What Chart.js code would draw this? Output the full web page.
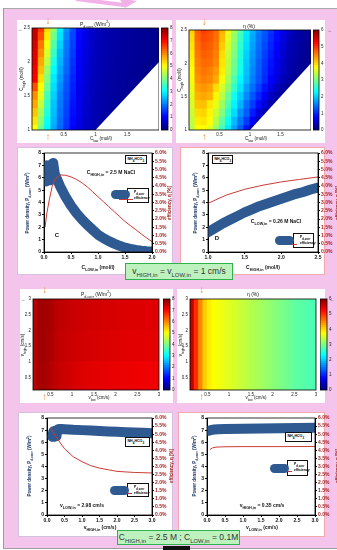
<!DOCTYPE html>
<html>
<head>
<meta charset="utf-8">
<script src="https://cdn.jsdelivr.net/npm/chart.js@4.4.1/dist/chart.umd.min.js"></script>
<style>
body{margin:0;width:337px;height:550px;position:relative;overflow:hidden;background:#fff;font-family:"Liberation Sans",Arial,sans-serif}
.abs{position:absolute;box-sizing:border-box}
.panel{position:absolute;background:#fff;box-sizing:border-box}
canvas{position:absolute}
.t{position:absolute;white-space:nowrap;line-height:1;color:#111}
.t sub,.t sup{font-size:75%;line-height:0}
.box{position:absolute;box-sizing:border-box;background:#fff;border:0.8px solid #111;font-size:3.6px;font-weight:bold;line-height:1.25;padding:1px 1.5px;white-space:nowrap}
.blob{position:absolute;background:#2e5a91;border-radius:5px}
.green{position:absolute;box-sizing:border-box;border:1.5px solid #2cb34e;background:#bdf2bf;color:#333;font-size:8.5px;text-align:center;white-space:nowrap}
.green sub{font-size:70%}
</style>
</head>
<body>
<div class="abs" style="left:3px;top:8px;width:334px;height:541px;background:#f5c4ec;border-left:1.5px solid #9c9c9c;border-top:1px solid #a8a8a8;border-bottom:1px solid #9c9c9c"></div>
<svg class="abs" style="left:0;top:0" width="337" height="12">
  <path d="M76 -1 L124 5" stroke="#f2b2e8" stroke-width="4"/>
  <polygon points="119,-2 137,1 125,8" fill="#f2b2e8"/>
</svg>

<div class="panel" style="left:17px;top:20px;width:155px;height:123px"></div>
<div class="panel" style="left:176px;top:20px;width:149px;height:123px"></div>
<div class="panel" style="left:17px;top:147px;width:156px;height:128px;border:1px solid #d2c2dc"></div>
<div class="panel" style="left:180px;top:147px;width:145px;height:128px;border:1px solid #f1aaaa"></div>
<div class="panel" style="left:20px;top:289px;width:153px;height:114px"></div>
<div class="panel" style="left:177px;top:289px;width:148px;height:114px"></div>
<div class="panel" style="left:18px;top:412px;width:155px;height:125px;border:1px solid #d2c2dc"></div>
<div class="panel" style="left:178px;top:412px;width:147px;height:125px;border:1px solid #f1aaaa"></div>

<script>

// top maps: columns = C_low (mol/l), rows = C_high (mol/l), bottom row first
const cLowCols = [0.05,0.15,0.25,0.35,0.45,0.55,0.65,0.75,0.85,0.95,1.05,1.15,1.25,1.35,1.45,1.55,1.65,1.75,1.85,1.95];
const cHighRows = [1.0,1.125,1.25,1.375,1.5,1.625,1.75,1.875,2.0,2.125,2.25,2.375,2.5];
const pdMap = [
  [5.0,3.9,2.95,2.3,1.8,1.4,1.0,0.78,0.6,0.45,0.35],
  [5.2,4.1,3.05,2.4,1.85,1.45,1.05,0.8,0.6,0.45,0.36,0.3],
  [5.45,4.3,3.25,2.5,1.9,1.5,1.1,0.83,0.62,0.46,0.37,0.3,0.25,0.21],
  [5.7,4.55,3.4,2.55,1.95,1.55,1.15,0.85,0.64,0.47,0.38,0.31,0.26,0.22,0.19],
  [5.9,4.8,3.55,2.65,2.0,1.6,1.2,0.87,0.66,0.48,0.39,0.32,0.27,0.23,0.2,0.17],
  [6.4,5.0,3.8,2.75,2.1,1.65,1.25,0.9,0.68,0.49,0.4,0.33,0.28,0.24,0.21,0.18,0.15],
  [7.0,5.25,4.0,2.85,2.2,1.7,1.3,0.93,0.7,0.5,0.41,0.34,0.29,0.25,0.22,0.19,0.16,0.14,0.11],
  [7.1,5.5,4.2,3.0,2.3,1.8,1.35,0.95,0.72,0.52,0.42,0.35,0.3,0.26,0.23,0.2,0.17,0.15,0.12,0.1],
  [7.2,5.7,4.5,3.2,2.4,1.85,1.4,0.97,0.74,0.53,0.43,0.36,0.31,0.27,0.24,0.21,0.18,0.16,0.13,0.11],
  [7.25,5.9,4.7,3.45,2.5,1.9,1.45,1.0,0.76,0.55,0.44,0.37,0.32,0.28,0.25,0.22,0.19,0.16,0.14,0.12],
  [7.35,6.1,4.9,3.65,2.65,1.95,1.5,1.02,0.78,0.56,0.45,0.38,0.33,0.29,0.25,0.22,0.19,0.17,0.14,0.12],
  [7.45,6.4,5.15,3.9,2.8,2.05,1.55,1.05,0.8,0.58,0.46,0.39,0.34,0.3,0.26,0.23,0.2,0.17,0.15,0.13],
  [7.5,6.6,5.3,4.1,2.9,2.15,1.6,1.1,0.83,0.6,0.47,0.4,0.35,0.3,0.26,0.23,0.2,0.17,0.15,0.13]
];
const etaMap = [
  [3.3,3.75,3.75,3.58,3.13,2.63,2.13,1.7,1.3,0.86,0.3],
  [3.37,3.85,3.9,3.75,3.3,2.8,2.3,1.85,1.45,1.1,0.7,0.3],
  [3.43,3.95,4.0,3.8,3.45,3.0,2.5,2.05,1.6,1.3,0.9,0.55,0.3,0.15],
  [3.5,4.1,4.12,3.88,3.63,3.16,2.69,2.2,1.8,1.4,1.1,0.8,0.52,0.27,0.15],
  [3.57,4.2,4.27,4.2,3.8,3.33,2.85,2.33,1.95,1.57,1.26,0.97,0.71,0.42,0.25,0.14],
  [3.63,4.3,4.38,4.3,3.95,3.5,3.05,2.55,2.1,1.7,1.4,1.12,0.85,0.6,0.38,0.22,0.12],
  [3.7,4.4,4.5,4.45,4.25,3.7,3.2,2.7,2.2,1.85,1.5,1.25,1.0,0.75,0.55,0.34,0.22,0.15,0.1],
  [3.75,4.45,4.57,4.5,4.35,3.85,3.3,2.85,2.35,1.9,1.55,1.28,1.03,0.82,0.62,0.42,0.28,0.18,0.12,0.08],
  [3.8,4.5,4.63,4.6,4.45,3.9,3.35,2.9,2.4,1.93,1.6,1.3,1.07,0.85,0.66,0.45,0.3,0.2,0.15,0.1],
  [3.85,4.55,4.7,4.65,4.5,3.95,3.4,2.98,2.45,1.98,1.64,1.36,1.12,0.9,0.7,0.5,0.32,0.23,0.16,0.12],
  [3.9,4.6,4.77,4.7,4.55,4.05,3.5,3.05,2.5,2.05,1.7,1.4,1.18,0.95,0.74,0.55,0.35,0.25,0.18,0.13],
  [3.95,4.65,4.83,4.75,4.6,4.15,3.55,3.1,2.6,2.1,1.75,1.43,1.23,1.0,0.79,0.6,0.4,0.27,0.2,0.14],
  [4.0,4.7,4.9,4.8,4.6,4.2,3.65,3.2,2.7,2.15,1.8,1.5,1.25,1.05,0.8,0.65,0.45,0.3,0.2,0.15]
];
// no data where C_low > C_high
const domainEdgeX = [1.0, 2.0];
const domainEdgeY = [1.0, 2.0];

// middle maps: columns = v_low (cm/s), rows = v_high (cm/s)
const vLowCols = [0.15,0.25,0.35,0.45,0.55,0.65,0.75,0.85,0.95,1.05,1.15,1.25,1.35,1.45,1.55,1.65,1.75,1.85,1.95,2.05,2.15,2.25,2.35,2.45,2.55,2.65,2.75,2.85,2.95];
const vHighRows = [0.5,1.5,2.5];
const pdVMap = [
  [7.5,7.7,7.72,7.66,7.58,7.5,7.44,7.4,7.36,7.33,7.3,7.27,7.25,7.23,7.21,7.2,7.19,7.18,7.17,7.16,7.15,7.14,7.14,7.13,7.13,7.12,7.12,7.12,7.11],
  [7.55,7.72,7.74,7.7,7.63,7.54,7.48,7.45,7.42,7.4,7.38,7.36,7.35,7.33,7.32,7.3,7.29,7.28,7.27,7.26,7.25,7.24,7.23,7.23,7.22,7.22,7.21,7.21,7.2],
  [7.55,7.72,7.74,7.72,7.65,7.55,7.5,7.47,7.44,7.42,7.4,7.39,7.38,7.36,7.35,7.34,7.33,7.32,7.31,7.3,7.29,7.28,7.27,7.27,7.26,7.26,7.25,7.25,7.25]
];
const vHighAll = [1.55];
const etaVMap = [
  [5.6,5.0,4.45,4.05,3.85,3.75,3.7,3.65,3.6,3.55,3.5,3.45,3.4,3.35,3.3,3.25,3.2,3.15,3.1,3.05,3.0,2.95,2.9,2.85,2.8,2.78,2.75,2.72,2.7]
];
const markerCLow = 0.25;
const markerVLow = 0.37;

// C: versus C_LOW,in
const cLowC = [0.02,0.04,0.06,0.08,0.1,0.12,0.14,0.17,0.2,0.25,0.3,0.4,0.5,0.6,0.7,0.8,0.9,1.0,1.1,1.2,1.3,1.4,1.5,1.6,1.7,1.8,1.9,2.0];
const pdC = [6.9,5.7,7.0,5.8,6.9,5.8,7.1,7.2,6.3,5.8,5.3,4.45,3.75,3.15,2.65,2.2,1.8,1.4,1.12,0.88,0.68,0.5,0.35,0.25,0.17,0.11,0.07,0.04];
const cLowEffC = [0.02,0.05,0.1,0.15,0.2,0.3,0.4,0.5,0.6,0.7,0.8,0.9,1.0,1.1,1.2,1.3,1.4,1.5,1.6,1.7,1.8,1.9,2.0];
const effC = [1.5,2.3,3.2,3.95,4.4,4.67,4.65,4.55,4.4,4.2,3.95,3.65,3.35,3.05,2.75,2.45,2.15,1.85,1.6,1.35,1.1,0.85,0.63];

// D: versus C_HIGH,in
const cHighD = [1.0,1.1,1.2,1.3,1.4,1.5,1.6,1.7,1.8,1.9,2.0,2.1,2.2,2.3,2.4,2.5];
const pdD = [1.6,1.95,2.3,2.6,2.9,3.2,3.45,3.7,3.9,4.1,4.3,4.5,4.7,4.85,5.05,5.2];
const cHighEffD = [1.0,1.25,1.5,1.75,2.0,2.25,2.5];
const effD = [2.95,3.45,3.8,4.05,4.25,4.4,4.55];

// bottom left: versus v_HIGH,in
const vHighBL = [0.15,0.18,0.21,0.24,0.27,0.3,0.35,0.4,0.5,0.75,1.0,1.25,1.5,1.75,2.0,2.25,2.5,2.75,3.0];
const pdBL = [6.45,6.9,6.45,6.95,6.5,7.05,7.1,7.1,7.08,7.03,7.0,6.96,6.92,6.89,6.86,6.83,6.8,6.78,6.75];
const vHighEffBL = [0.1,0.25,0.5,0.75,1.0,1.25,1.5,1.75,2.0,2.5,3.0];
const effBL = [5.4,4.85,4.1,3.6,3.3,3.05,2.9,2.8,2.7,2.63,2.6];

// bottom right: versus v_LOW,in
const vLowBR = [0.05,0.1,0.2,0.3,0.5,1.0,1.5,2.0,2.5,3.0];
const pdBR = [6.95,7.0,7.05,7.08,7.1,7.12,7.14,7.16,7.18,7.2];
const vLowEffBR = [0.08,0.15,0.25,0.5,1.0,2.0,3.0];
const effBR = [4.05,4.15,4.2,4.22,4.23,4.23,4.24];

// ---------- drawing ----------
Chart.defaults.font.family = '"Liberation Sans", Arial, sans-serif';
Chart.defaults.font.size = 5;

function jet(t) {
  t = Math.max(0, Math.min(1, t));
  const f = v => Math.round(255 * Math.max(0, Math.min(1, 1.5 - Math.abs(v))));
  return 'rgb(' + f(4*t-3) + ',' + f(4*t-2) + ',' + f(4*t-1) + ')';
}

const frame = {
  id: 'frame',
  afterDatasetsDraw(c) {
    const a = c.chartArea, x = c.ctx;
    x.save(); x.strokeStyle = '#000'; x.lineWidth = 0.8;
    x.strokeRect(a.left, a.top, a.right - a.left, a.bottom - a.top);
    x.restore();
  }
};

function canvasAt(x, y, w, h) {
  const c = document.createElement('canvas');
  c.width = w; c.height = h;
  c.style.left = x + 'px'; c.style.top = y + 'px';
  c.style.width = w + 'px'; c.style.height = h + 'px';
  document.body.appendChild(c);
  return c;
}

function put(html, x, y, style, rot) {
  const d = document.createElement('div');
  d.className = 't';
  d.innerHTML = html;
  d.style.cssText += style || '';
  d.style.left = x + 'px'; d.style.top = y + 'px';
  d.style.transform = 'translate(-50%,-50%)' + (rot ? ' rotate(' + rot + 'deg)' : '');
  document.body.appendChild(d);
  return d;
}

const noGrid = {display: false, drawTicks: false};

function heatmap(box, plot, cols, rows, rowSpan, grid, vmax, xr, yr, xTicks, yTicks, edge) {
  const [bx, by, bw, bh] = box, [pl, pt, pr, pb] = plot;
  const cv = canvasAt(bx, by, bw, bh);
  const datasets = rows.map((yc, r) => ({
    type: 'bar',
    data: grid[r].map((v, i) => ({x: cols[i], y: [yc - rowSpan/2, yc + rowSpan/2]})),
    backgroundColor: grid[r].map(v => jet(v / vmax)),
    borderWidth: 0, grouped: false, barPercentage: 1, categoryPercentage: 1,
    inflateAmount: 0.6, clip: 0, order: 1
  }));
  if (edge) {
    datasets.push({type: 'line', data: edge[0].map((x, i) => ({x, y: edge[1][i]})),
      fill: 'start', backgroundColor: '#fff', borderWidth: 0, pointRadius: 0, order: 0, clip: 0});
  }
  const tk = {font: {size: 4.5}, color: '#222', padding: 2, maxRotation: 0, autoSkip: false,
              callback: v => String(v)};
  return new Chart(cv, {
    type: 'bar',
    data: {datasets},
    options: {
      responsive: false, animation: false, devicePixelRatio: 1, events: [],
      layout: {padding: {left: 0, top: pt - by, right: bx + bw - pr, bottom: 0}},
      plugins: {legend: {display: false}, tooltip: {enabled: false}},
      scales: {
        x: {type: 'linear', min: xr[0], max: xr[1], offset: false,
            grid: noGrid, border: {display: false}, ticks: tk,
            afterBuildTicks: s => { s.ticks = xTicks.map(v => ({value: v})); },
            afterFit: s => { s.height = by + bh - pb; }},
        y: {type: 'linear', min: yr[0], max: yr[1],
            grid: noGrid, border: {display: false}, ticks: tk,
            afterBuildTicks: s => { s.ticks = yTicks.map(v => ({value: v})); },
            afterFit: s => { s.width = pl - bx; }}
      }
    },
    plugins: [frame]
  });
}

function colorbar(box, plot, vmax) {
  const [bx, by, bw, bh] = box, [pl, pt, pr, pb] = plot;
  const cv = canvasAt(bx, by, bw, bh);
  const n = 48, datasets = [];
  for (let i = 0; i < n; i++) {
    datasets.push({data: [[vmax*i/n, vmax*(i+1)/n]], backgroundColor: jet((i + 0.5)/n),
      borderWidth: 0, grouped: false, barPercentage: 1, categoryPercentage: 1, inflateAmount: 0.5});
  }
  return new Chart(cv, {
    type: 'bar',
    data: {labels: [''], datasets},
    options: {
      responsive: false, animation: false, devicePixelRatio: 1, events: [],
      layout: {padding: {left: pl - bx, top: pt - by, right: 0, bottom: by + bh - pb}},
      plugins: {legend: {display: false}, tooltip: {enabled: false}},
      scales: {
        x: {display: false},
        y: {position: 'right', min: 0, max: vmax, grid: noGrid, border: {display: false},
            ticks: {stepSize: 1, font: {size: 4.5}, color: '#222', padding: 2},
            afterFit: s => { s.width = bx + bw - pr; }}
      }
    },
    plugins: [frame]
  });
}

function lineChart(box, plot, xr, xStep, bx_, by_, rx_, ry_) {
  const [bx, by, bw, bh] = box, [pl, pt, pr, pb] = plot;
  const cv = canvasAt(bx, by, bw, bh);
  const tk = {font: {size: 5, weight: 'bold'}, color: '#111', padding: 1, maxRotation: 0, autoSkip: false};
  const gr = {drawOnChartArea: false, tickLength: 2, color: '#000'};
  return new Chart(cv, {
    type: 'line',
    data: {datasets: [
      {data: rx_.map((x, i) => ({x, y: ry_[i]})), yAxisID: 'y2', borderColor: '#cc3b36',
       borderWidth: 1, pointRadius: 0, order: 0, clip: 0},
      {data: bx_.map((x, i) => ({x, y: by_[i]})), yAxisID: 'y', borderColor: '#2e5a91',
       borderWidth: 10, borderCapStyle: 'round', borderJoinStyle: 'round', pointRadius: 0, order: 1, clip: 0}
    ]},
    options: {
      responsive: false, animation: false, devicePixelRatio: 1, events: [],
      layout: {padding: {left: 0, top: pt - by, right: 0, bottom: 0}},
      plugins: {legend: {display: false}, tooltip: {enabled: false}},
      scales: {
        x: {type: 'linear', min: xr[0], max: xr[1], grid: gr, border: {color: '#000'},
            ticks: Object.assign({stepSize: xStep, callback: v => v.toFixed(1)}, tk),
            afterFit: s => { s.height = by + bh - pb; }},
        y: {min: 0, max: 8, grid: gr, border: {color: '#000'},
            ticks: Object.assign({stepSize: 1}, tk),
            afterFit: s => { s.width = pl - bx; }},
        y2: {position: 'right', min: 0, max: 6, grid: gr, border: {color: '#000'},
             ticks: Object.assign({}, tk, {stepSize: 0.5, color: '#a31f1f', callback: v => v.toFixed(1) + '%'}),
             afterFit: s => { s.width = bx + bw - pr; }}
      }
    },
    plugins: [frame]
  });
}

// top heatmaps
const tl = heatmap([17, 20, 142, 123], [32, 28, 159, 130], cLowCols, cHighRows, 0.125, pdMap, 8,
  [0, 2], [1, 2.5], [0.5, 1, 1.5], [1, 1.5, 2, 2.5], [domainEdgeX, domainEdgeY]);
colorbar([161, 20, 14, 123], [161, 28, 168, 130], 8);
const tr = heatmap([176, 20, 135, 123], [189, 30, 311, 130], cLowCols, cHighRows, 0.125, etaMap, 6,
  [0, 2], [1, 2.5], [0.5, 1, 1.5], [1, 1.5, 2, 2.5], [domainEdgeX, domainEdgeY]);
colorbar([313, 20, 20, 123], [313, 30, 319, 130], 6);

// line charts C and D
lineChart([17, 147, 156, 128], [44, 153, 152, 252], [0, 2], 0.5, cLowC, pdC, cLowEffC, effC);
lineChart([180, 147, 157, 128], [208, 153, 318, 252], [1, 2.5], 0.5, cHighD, pdD, cHighEffD, effD);

// middle heatmaps
const ml = heatmap([20, 289, 143, 114], [33, 299, 159, 390], vLowCols, vHighRows, 1, pdVMap, 8,
  [0.1, 3], [0.1, 3], [0.5, 1, 1.5, 2, 2.5, 3], [0.5, 1, 1.5, 2, 2.5, 3]);
colorbar([163, 289, 12, 114], [163, 299, 170, 390], 8);
const mr = heatmap([177, 289, 143, 114], [190, 299, 316, 390], vLowCols, vHighAll, 2.9, etaVMap, 6,
  [0.1, 3], [0.1, 3], [0.5, 1, 1.5, 2, 2.5, 3], [0.5, 1, 1.5, 2, 2.5, 3]);
colorbar([320, 289, 17, 114], [320, 299, 327, 390], 6);

// bottom line charts
lineChart([18, 412, 155, 125], [47, 418, 152, 515], [0, 3], 0.5, vHighBL, pdBL, vHighEffBL, effBL);
lineChart([178, 412, 159, 125], [207, 418, 315, 515], [0, 3], 0.5, vLowBR, pdBR, vLowEffBR, effBR);

// orange markers, placed through the map scales
function markers(ch, left, v, yTop, yBot) {
  const x = left + ch.scales.x.getPixelForValue(v);
  put('↓', x, yTop, 'font-size:10px;color:#f0883a');
  put('↑', x, yBot, 'font-size:10px;color:#f0883a');
}
markers(tl, 17, markerCLow, 21, 137);
markers(tr, 176, markerCLow, 22, 137);
markers(ml, 20, markerVLow, 290, 397);
markers(mr, 177, markerVLow, 290, 397);

// map labels
const s5 = 'font-size:5px', s45 = 'font-size:4.5px';
put('P<sub>d,corr</sub> (W/m<sup>2</sup>)', 95, 24, s5);
put('C<sub>low</sub> (mol/l)', 101, 138.5, s45);
put('C<sub>high</sub> (mol/l)', 22, 79, s45, -90);
put('→', 20, 28.5, 'font-size:5px;color:#555');
put('η (%)', 249, 26, s5);
put('C<sub>low</sub> (mol/l)', 256, 138.5, s45);
put('C<sub>high</sub> (mol/l)', 180, 80, s45, -90);
put('←', 330, 30, 'font-size:5px;color:#555');
put('P<sub>d,corr</sub> (W/m<sup>2</sup>)', 96, 293.5, s5);
put('v<sub>low</sub> (cm/s)', 99, 397.5, s45);
put('v<sub>high</sub> (cm/s)', 23, 345, s45, -90);
put('→', 23, 299, 'font-size:5px;color:#555');
put('η (%)', 253, 293.5, s5);
put('v<sub>low</sub> (cm/s)', 256, 397.5, s45);
put('v<sub>high</sub> (cm/s)', 181, 345, s45, -90);
put('←', 332, 299, 'font-size:5px;color:#555');

// line chart labels
const yl = 'font-size:4.5px;font-weight:bold;color:#20396a';
const rl = 'font-size:4.5px;font-weight:bold;color:#a01d1d';
const xl = 'font-size:5px;font-weight:bold';
const pd = 'Power density, P<sub>d,corr</sub> (W/m<sup>2</sup>)';
const ef = 'efficiency, η [%]';
put(pd, 27.5, 203, yl, -90); put(ef, 170, 203, rl, -90);
put('C<sub>LOW,in</sub> (mol/l)', 98, 266.5, xl);
put('C', 57, 235, 'font-size:6px;font-weight:bold');
put('C<sub>HIGH,in</sub> = 2.5 M NaCl', 111, 172, xl);
put(pd, 196, 203, yl, -90); put(ef, 338, 203, rl, -90);
put('C<sub>HIGH,in</sub> (mol/l)', 263, 266.5, xl);
put('D', 217, 238, 'font-size:6px;font-weight:bold');
put('C<sub>LOW,in</sub> = 0.26 M NaCl', 276, 221, xl);
put(pd, 30, 466, yl, -90); put(ef, 172, 466, rl, -90);
put('v<sub>HIGH,in</sub> (cm/s)', 100, 527, xl);
put('v<sub>LOW,in</sub> = 2.98 cm/s', 82, 505, xl);
put(pd, 195, 466, yl, -90); put(ef, 338, 466, rl, -90);
put('v<sub>LOW,in</sub> (cm/s)', 262, 527, xl);
put('v<sub>HIGH,in</sub> = 0.35 cm/s', 262, 505, xl);

function tag(x, y, w, h) {
  const d = document.createElement('div');
  d.className = 'box';
  d.style.cssText += 'left:' + x + 'px;top:' + y + 'px;width:' + w + 'px;height:' + h + 'px';
  d.innerHTML = 'NH<sub>4</sub>HCO<sub>3</sub>';
  document.body.appendChild(d);
}
tag(125, 155, 22, 9); tag(212, 155, 21, 9); tag(125, 437, 25, 10); tag(285, 432, 27, 10);

function legendBox(x, y, w, h, blobX, blobY) {
  const d = document.createElement('div');
  d.className = 'box';
  d.style.cssText += 'left:' + x + 'px;top:' + y + 'px;width:' + w + 'px;height:' + h + 'px;padding-left:6px;font-size:3.4px;line-height:1.6';
  d.innerHTML = 'P<sub>d,corr</sub><br>efficiency';
  document.body.appendChild(d);
  const r = document.createElement('div');
  r.className = 'abs';
  r.style.cssText = 'left:' + (blobX + 8) + 'px;top:' + (y + h*0.7) + 'px;width:14px;height:1px;background:#cc3b36';
  document.body.appendChild(r);
  const b = document.createElement('div');
  b.className = 'blob';
  b.style.cssText = 'left:' + blobX + 'px;top:' + blobY + 'px;width:19px;height:9px';
  document.body.appendChild(b);
}
legendBox(127, 188, 22, 15, 111, 190);
legendBox(293, 233, 21, 15, 275, 236);
legendBox(127, 483, 22, 14, 110, 486);
legendBox(287, 460, 21, 16, 270, 464);
</script>

<div class="green" style="left:125px;top:263px;width:108px;height:17px;line-height:14px">v<sub>HIGH,in</sub> = v<sub>LOW,in</sub> = 1 cm/s</div>
<div class="green" style="left:117px;top:530px;width:123px;height:15px;line-height:12px">C<sub>HIGH,in</sub> = 2.5 M ; C<sub>LOW,in</sub> = 0.1M</div>
<div class="abs" style="left:163px;top:546px;width:27px;height:4px;background:#111"></div>
</body>
</html>
